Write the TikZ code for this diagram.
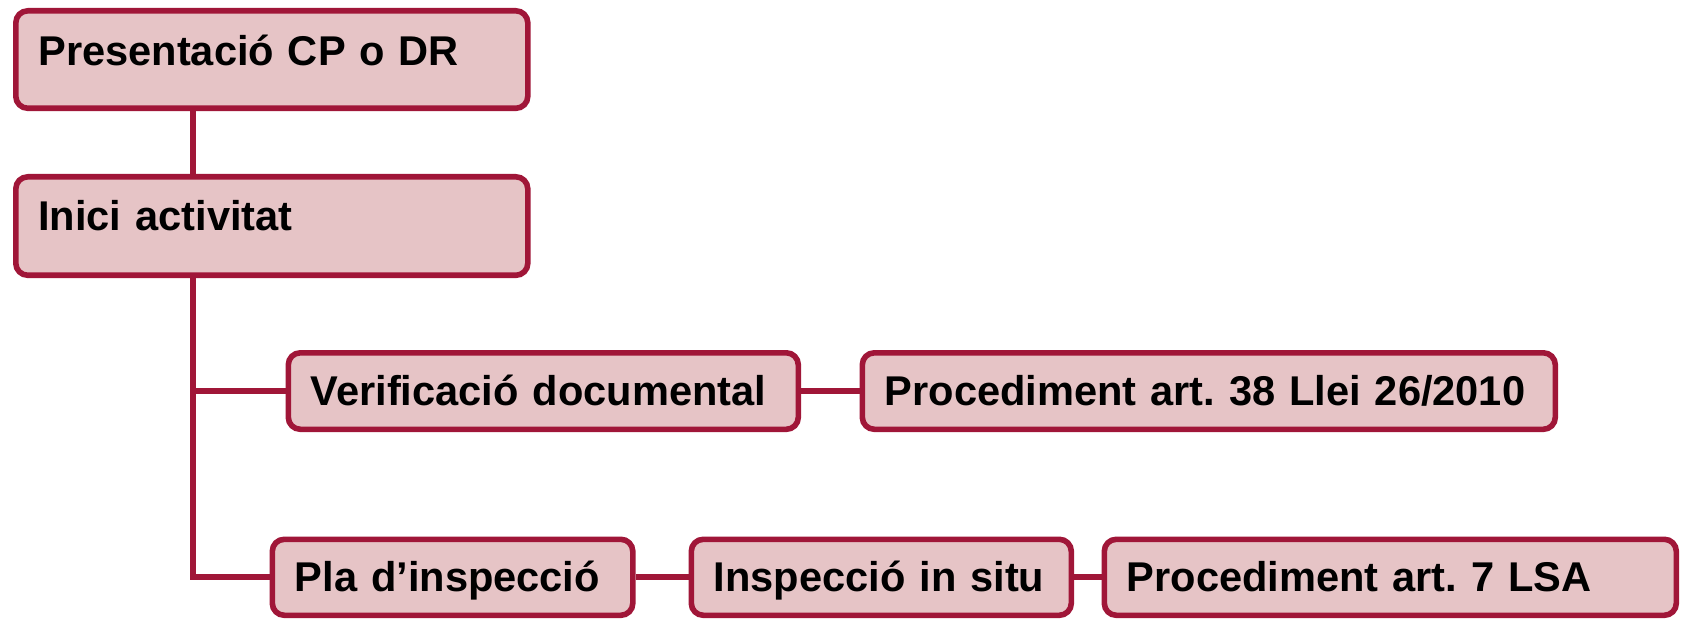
\documentclass[tikz,border=0pt]{standalone}
\usepackage{fontspec}
\setmainfont{Liberation Sans}
\usepackage{tikz}
\definecolor{stepred}{RGB}{160,22,56}
\definecolor{steppink}{RGB}{230,196,198}
\tikzset{
  stepbox/.style={draw=stepred, fill=steppink, line width=2.8pt, rounded corners=6pt,
    anchor=north west, inner xsep=11.25pt, inner ysep=0pt, align=left,
    font=\fontsize{20.8}{24}\selectfont\bfseries, execute at begin node=\frenchspacing},
  link/.style={draw=stepred, line width=3pt}
}

\begin{document}
\begin{tikzpicture}[x=0.5pt, y=-0.5pt]
  \useasboundingbox (0, 0) rectangle (1681, 620);
  \node [stepbox, text width=233.5pt, text height=27.25pt, text depth=21.5pt] (pres) at (13, 8) {Presentació CP o DR};
  \node [stepbox, text width=233.5pt, text height=26.75pt, text depth=22.5pt] (inici) at (13, 174) {Inici activitat};
  \node [stepbox, text width=232.5pt, text height=26.25pt, text depth=12pt] (verif) at (285.5, 350) {Verificació documental};
  \node [stepbox, text width=324pt, text height=26.25pt, text depth=12pt] (proc38) at (859.5, 350) {Procediment art. 38 Llei 26/2010};
  \node [stepbox, text width=157.75pt, text height=26pt, text depth=12pt] (pla) at (269.5, 536.5) {Pla d’inspecció};
  \node [stepbox, text width=167.5pt, text height=26pt, text depth=12pt] (insitu) at (688.5, 536.5) {Inspecció in situ};
  \node [stepbox, text width=263.5pt, text height=26pt, text depth=12pt] (proc7) at (1101.5, 536.5) {Procediment art. 7 LSA};
  \coordinate (trunk) at (193, 0);
  \draw [link] (pres.south -| trunk) -- (inici.north -| trunk);
  \draw [link] (inici.south -| trunk) -- (pla.west -| trunk) -- (pla.west);
  \draw [link] (verif.west -| trunk) -- (verif.west);
  \draw [link] (verif) -- (proc38);
  \draw [link] (pla) -- (insitu);
  \draw [link] (insitu) -- (proc7);
\end{tikzpicture}
\end{document}
